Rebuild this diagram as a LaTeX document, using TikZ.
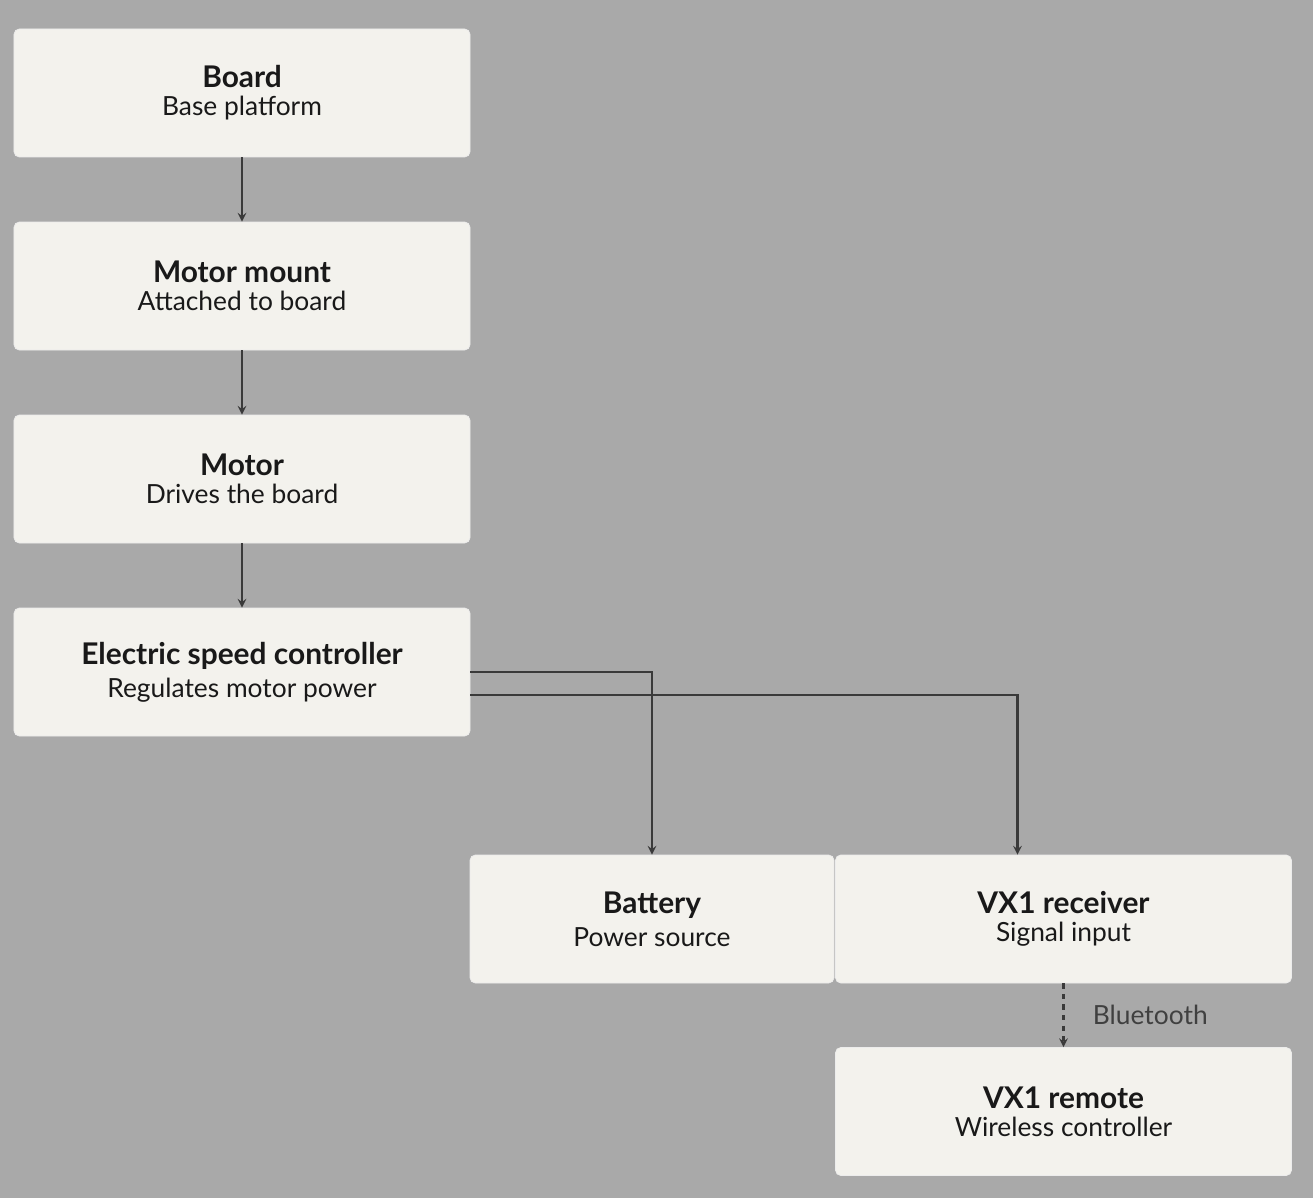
\documentclass[tikz,border=0pt]{standalone}
\usepackage{fontspec}
\setmainfont{Lato}
\usetikzlibrary{calc}
\definecolor{bggray}{HTML}{A9A9A9}
\definecolor{boxfill}{HTML}{F3F2ED}
\definecolor{linegray}{HTML}{3A3A3A}
\newcommand{\boxtext}[2]{{\fontsize{17}{20}\selectfont\bfseries #1}\\[4pt]{\fontsize{15}{18}\selectfont #2}}
\begin{document}
\begin{tikzpicture}[
  part/.style = {shape=rectangle, rounded corners=3pt, draw=white!85!gray,
    fill=boxfill, align=center, minimum width=9.12cm, minimum height=2.56cm,
    inner sep=0pt, text=black!90},
  link/.style = {draw=linegray, line width=1.2pt, -stealth},
  wireless/.style = {link, dashed}]
  \fill[bggray] (0,0) rectangle (26.26,-23.96);
  \useasboundingbox (0,0) rectangle (26.26,-23.96);

  \node[part] (board) at (4.84,-1.86) {\boxtext{Board}{Base platform}};
  \node[part] (mount) at (4.84,-5.72) {\boxtext{Motor mount}{Attached to board}};
  \node[part] (motor) at (4.84,-9.58) {\boxtext{Motor}{Drives the board}};
  \node[part] (esc) at (4.84,-13.44) {\boxtext{Electric speed controller}{Regulates motor power}};
  \node[part, minimum width=7.28cm] (battery) at (13.04,-18.38) {\boxtext{Battery}{Power source}};
  \node[part] (receiver) at (21.27,-18.38) {\boxtext{VX1 receiver}{Signal input}};
  \node[part] (remote) at (21.27,-22.23) {\boxtext{VX1 remote}{Wireless controller}};

  \draw[link] (board) -- (mount);
  \draw[link] (mount) -- (motor);
  \draw[link] (motor) -- (esc);
  \draw[link] (esc.east) -| (battery.north);
  \draw[link] ([yshift=-0.46cm]esc.east) -| ([xshift=-0.92cm]receiver.north);
  \draw[wireless] (receiver) -- node[right=0.45cm, text=black!75]
    {\fontsize{15}{18}\selectfont Bluetooth} (remote);
\end{tikzpicture}
\end{document}
